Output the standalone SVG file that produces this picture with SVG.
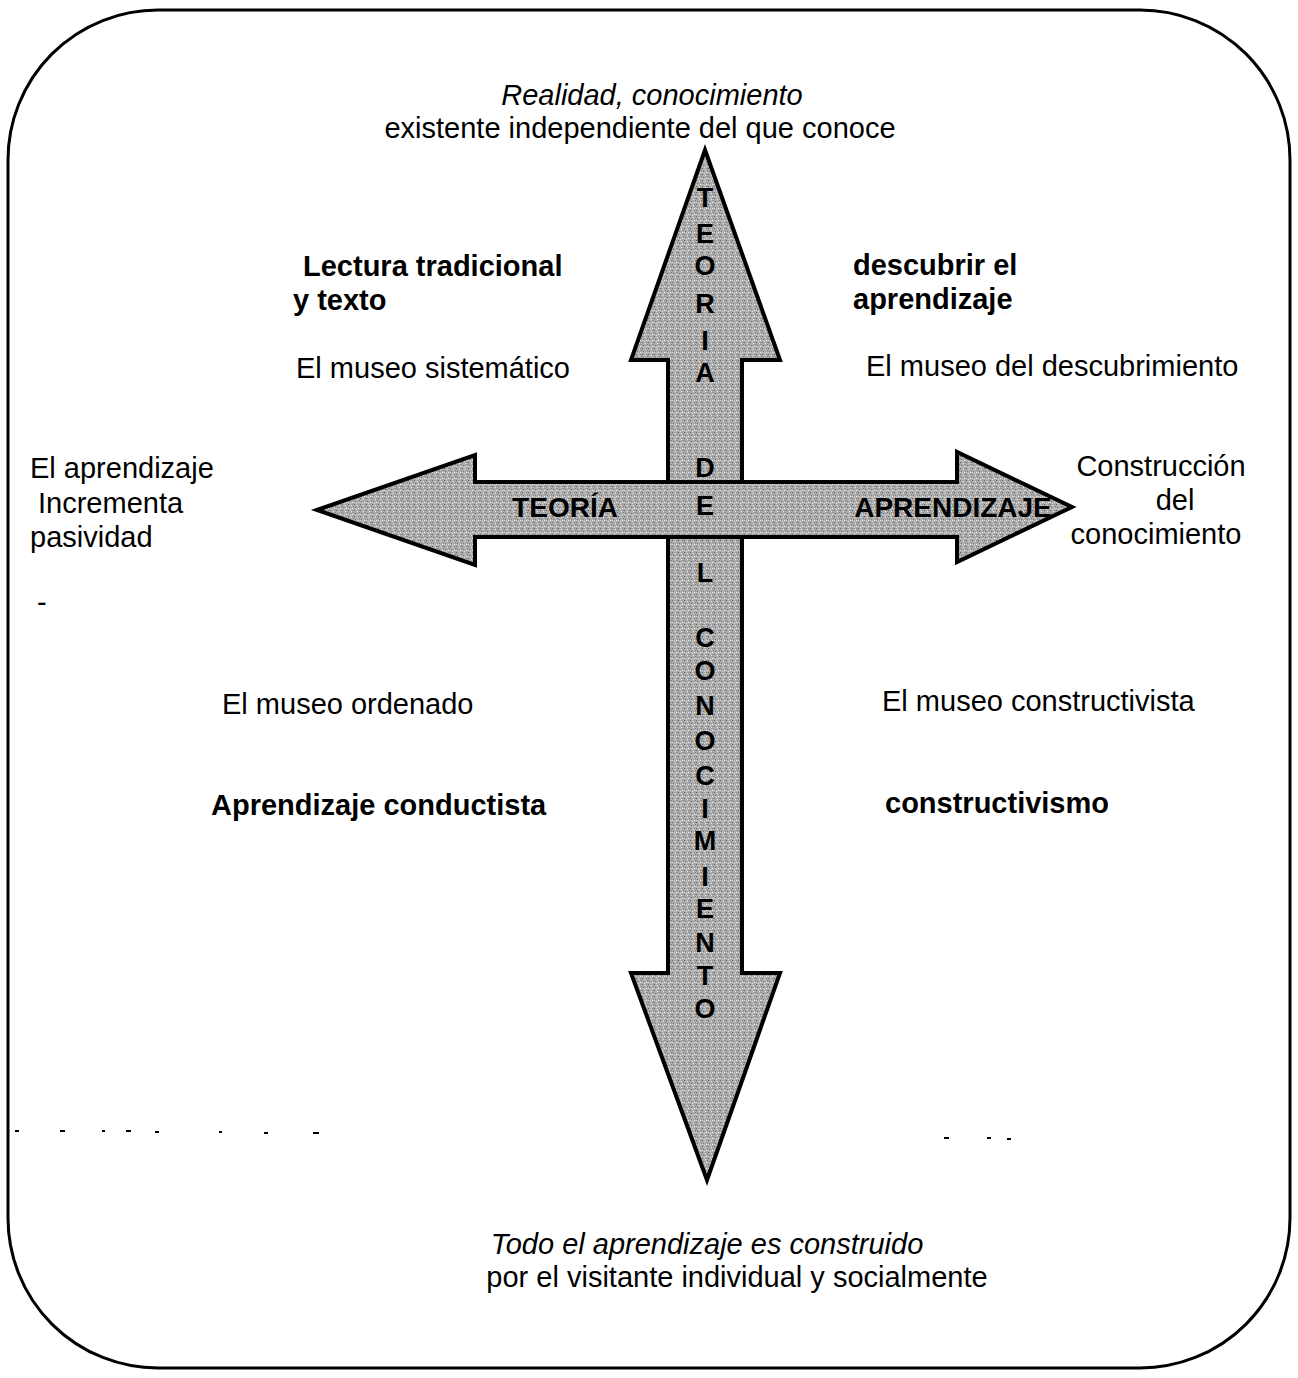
<svg xmlns="http://www.w3.org/2000/svg" width="1298" height="1378" viewBox="0 0 1298 1378">
<style>
.t{font-family:"Liberation Sans",Arial,sans-serif;font-size:29px;fill:#000}
.b{font-weight:bold}
.i{font-style:italic}
.al{font-family:"Liberation Sans",Arial,sans-serif;font-weight:bold;font-size:27px;fill:#000;text-anchor:middle}
.hl{font-size:28px}
.arrow{fill:url(#grain);stroke:#000;stroke-width:4;stroke-linejoin:miter}
.dash{stroke:#000;stroke-width:2}
</style>
<defs>
<pattern id="grain" width="6" height="6" patternUnits="userSpaceOnUse">
<rect width="6" height="6" fill="#acacac"/>
<rect x="0" y="0" width="1" height="1" fill="#606060"/>
<rect x="3" y="1" width="1" height="1" fill="#e8e8e8"/>
<rect x="1" y="3" width="1" height="1" fill="#707070"/>
<rect x="4" y="4" width="1" height="1" fill="#f4f4f4"/>
<rect x="5" y="2" width="1" height="1" fill="#7a7a7a"/>
<rect x="2" y="5" width="1" height="1" fill="#dcdcdc"/>
<rect x="4" y="0" width="1" height="1" fill="#888"/>
<rect x="0" y="4" width="1" height="1" fill="#d0d0d0"/>
</pattern>
</defs>
<rect id="frame" x="8" y="10" width="1282" height="1358" rx="150" ry="150" fill="#fff" stroke="#000" stroke-width="3"/>
<g id="connectors">
<polygon id="vertical-arrow" class="arrow" points="705,150 780,360 742,360 742,973 780,973 707,1180 631,973 668,973 668,360 631,360"/>
<polygon id="horizontal-arrow" class="arrow" points="317,510 475,455 475,482 957,482 957,452 1072,507 957,562 957,537 475,537 475,565"/>
</g>
<g id="vertical-label">
<text class="al" x="705" y="207">T</text>
<text class="al" x="705" y="243">E</text>
<text class="al" x="705" y="275">O</text>
<text class="al" x="705" y="313">R</text>
<text class="al" x="705" y="350">I</text>
<text class="al" x="705" y="382">A</text>
<text class="al" x="705" y="477">D</text>
<text class="al" x="705" y="515">E</text>
<text class="al" x="705" y="582">L</text>
<text class="al" x="705" y="647">C</text>
<text class="al" x="705" y="680">O</text>
<text class="al" x="705" y="715">N</text>
<text class="al" x="705" y="750">O</text>
<text class="al" x="705" y="785">C</text>
<text class="al" x="705" y="818">I</text>
<text class="al" x="705" y="850">M</text>
<text class="al" x="705" y="886">I</text>
<text class="al" x="705" y="918">E</text>
<text class="al" x="705" y="952">N</text>
<text class="al" x="705" y="985">T</text>
<text class="al" x="705" y="1018">O</text>
</g>
<g id="horizontal-labels">
<text class="al hl" x="565" y="517">TEORÍA</text>
<text class="al hl" x="953" y="517">APRENDIZAJE</text>
</g>
<g id="top-text">
<text class="t i" x="652" y="105" text-anchor="middle">Realidad, conocimiento</text>
<text class="t" x="640" y="138" text-anchor="middle">existente independiente del que conoce</text>
</g>
<g id="top-left">
<text class="t b" x="303" y="276">Lectura tradicional</text>
<text class="t b" x="293" y="310">y texto</text>
<text class="t" x="296" y="378">El museo sistemático</text>
</g>
<g id="top-right">
<text class="t b" x="853" y="275">descubrir el</text>
<text class="t b" x="853" y="309">aprendizaje</text>
<text class="t" x="866" y="376">El museo del descubrimiento</text>
</g>
<g id="left">
<text class="t" x="30" y="478">El aprendizaje</text>
<text class="t" x="38" y="513">Incrementa</text>
<text class="t" x="30" y="547">pasividad</text>
<text class="t" x="37" y="612">-</text>
</g>
<g id="right">
<text class="t" x="1161" y="476" text-anchor="middle">Construcción</text>
<text class="t" x="1175" y="510" text-anchor="middle">del</text>
<text class="t" x="1156" y="544" text-anchor="middle">conocimiento</text>
</g>
<g id="bottom-left">
<text class="t" x="222" y="714">El museo ordenado</text>
<text class="t b" x="211" y="815">Aprendizaje conductista</text>
</g>
<g id="bottom-right">
<text class="t" x="882" y="711">El museo constructivista</text>
<text class="t b" x="885" y="813">constructivismo</text>
</g>
<g id="bottom-text">
<text class="t i" x="707" y="1254" text-anchor="middle">Todo el aprendizaje es construido</text>
<text class="t" x="737" y="1287" text-anchor="middle">por el visitante individual y socialmente</text>
</g>
<g id="marks">
<line class="dash" x1="15" y1="1131" x2="19" y2="1131"/>
<line class="dash" x1="60" y1="1131" x2="65" y2="1131"/>
<line class="dash" x1="102" y1="1131" x2="105" y2="1131"/>
<line class="dash" x1="126" y1="1131" x2="131" y2="1131"/>
<line class="dash" x1="155" y1="1132" x2="159" y2="1132"/>
<line class="dash" x1="219" y1="1132" x2="222" y2="1132"/>
<line class="dash" x1="264" y1="1133" x2="268" y2="1133"/>
<line class="dash" x1="313" y1="1133" x2="319" y2="1133"/>
<line class="dash" x1="944" y1="1138" x2="949" y2="1138"/>
<line class="dash" x1="987" y1="1138" x2="991" y2="1138"/>
<line class="dash" x1="1007" y1="1139" x2="1011" y2="1139"/>
</g>
</svg>
